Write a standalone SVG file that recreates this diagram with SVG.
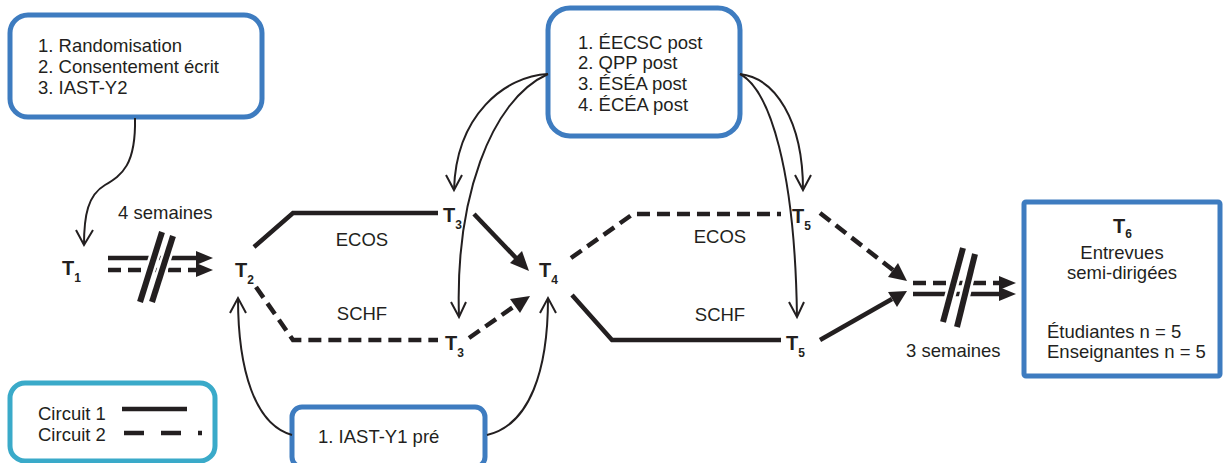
<svg xmlns="http://www.w3.org/2000/svg" width="1223" height="463" viewBox="0 0 1223 463">
  <style>
    .box { fill: #ffffff; stroke: #3e7cc0; stroke-width: 5; }
    .legend { fill: #ffffff; stroke: #3aaac9; stroke-width: 5; }
    .txt { font-family: "Liberation Sans", Arial, sans-serif; font-size: 18.5px; fill: #231f20; }
    .tlab { font-family: "Liberation Sans", Arial, sans-serif; font-size: 20px; font-weight: bold; fill: #231f20; }
    .sub { font-size: 12px; }
    .solid { fill: none; stroke: #231f20; stroke-width: 4.5; }
    .dash { fill: none; stroke: #231f20; stroke-width: 4.5; stroke-dasharray: 13 7; }
    .thin { fill: none; stroke: #231f20; stroke-width: 2; }
    .head { fill: #231f20; }
    .bar { stroke: #231f20; stroke-width: 6; }
    .barbg { stroke: #ffffff; stroke-width: 11; }
  </style>

  <!-- Boxes -->
  <g id="box-inclusion">
    <rect class="box" x="10" y="15" width="252" height="102" rx="18"/>
    <text class="txt" x="38" y="52">1. Randomisation</text>
    <text class="txt" x="38" y="73">2. Consentement écrit</text>
    <text class="txt" x="38" y="94">3. IAST-Y2</text>
  </g>

  <g id="box-post">
    <rect class="box" x="548" y="8" width="192" height="128" rx="22"/>
    <text class="txt" x="578" y="49">1. ÉECSC post</text>
    <text class="txt" x="578" y="69">2. QPP post</text>
    <text class="txt" x="578" y="90">3. ÉSÉA post</text>
    <text class="txt" x="578" y="111">4. ÉCÉA post</text>
  </g>

  <g id="box-pre">
    <rect class="box" x="292" y="407" width="193" height="60" rx="10"/>
    <text class="txt" x="318" y="443">1. IAST-Y1 pré</text>
  </g>

  <g id="box-t6">
    <rect class="box" x="1024" y="202" width="196" height="174" rx="2"/>
    <text class="tlab" x="1113" y="233">T<tspan class="sub" dy="5">6</tspan></text>
    <text class="txt" x="1122" y="259" text-anchor="middle">Entrevues</text>
    <text class="txt" x="1122" y="279" text-anchor="middle">semi-dirigées</text>
    <text class="txt" x="1047" y="338">Étudiantes n = 5</text>
    <text class="txt" x="1047" y="358">Enseignantes n = 5</text>
  </g>

  <g id="legend">
    <rect class="legend" x="10" y="383" width="205" height="78" rx="15"/>
    <text class="txt" x="38" y="420">Circuit 1</text>
    <text class="txt" x="38" y="441">Circuit 2</text>
    <line class="solid" x1="122" y1="409" x2="187" y2="409"/>
    <line x1="124" y1="433" x2="202" y2="433" stroke="#231f20" stroke-width="4.5" stroke-dasharray="20 17"/>
  </g>

  <!-- Time points -->
  <g id="t1"><text class="tlab" x="62" y="275">T<tspan class="sub" dy="7">1</tspan></text></g>
  <g id="t2"><text class="tlab" x="235" y="277">T<tspan class="sub" dy="7">2</tspan></text></g>
  <g id="t3a"><text class="tlab" x="443" y="222">T<tspan class="sub" dy="7">3</tspan></text></g>
  <g id="t3b"><text class="tlab" x="445" y="350">T<tspan class="sub" dy="7">3</tspan></text></g>
  <g id="t4"><text class="tlab" x="539" y="277">T<tspan class="sub" dy="7">4</tspan></text></g>
  <g id="t5a"><text class="tlab" x="792" y="223">T<tspan class="sub" dy="7">5</tspan></text></g>
  <g id="t5b"><text class="tlab" x="786" y="350">T<tspan class="sub" dy="7">5</tspan></text></g>

  <!-- Connectors -->
  <g id="connectors">
    <!-- T1 to T2, four weeks -->
    <text class="txt" x="118" y="219">4 semaines</text>
    <line class="solid" x1="108" y1="258" x2="198" y2="258"/>
    <polygon class="head" points="213,258 196,251 196,265"/>
    <line class="dash" x1="108" y1="270" x2="198" y2="270"/>
    <polygon class="head" points="213,270 196,263 196,277"/>
    <line class="barbg" x1="162" y1="232" x2="140" y2="302"/>
    <line class="barbg" x1="173" y1="236" x2="152" y2="302"/>
    <line class="bar" x1="162" y1="232" x2="140" y2="302"/>
    <line class="bar" x1="173" y1="236" x2="152" y2="302"/>

    <!-- T2 to T3 -->
    <path class="solid" d="M254,247 L293,213 H438"/>
    <path class="dash" d="M256,287 L293,340 H438"/>
    <text class="txt" x="362" y="246" text-anchor="middle">ECOS</text>
    <text class="txt" x="362" y="320" text-anchor="middle">SCHF</text>

    <!-- T3 to T4 -->
    <line class="solid" x1="474" y1="214" x2="517" y2="259"/>
    <polygon class="head" points="529,271 510,263 522,251"/>
    <line class="dash" x1="469" y1="338" x2="516" y2="305"/>
    <polygon class="head" points="530,296 520,313 510,299"/>

    <!-- T4 to T5 -->
    <path class="dash" d="M571,258 L633,214 H781"/>
    <path class="solid" d="M572,295 L612,340 H781"/>
    <text class="txt" x="720" y="243" text-anchor="middle">ECOS</text>
    <text class="txt" x="720" y="321" text-anchor="middle">SCHF</text>

    <!-- T5 to T6, three weeks -->
    <line class="dash" x1="820" y1="213" x2="893" y2="270"/>
    <polygon class="head" points="907,281 888,277 898,263"/>
    <line class="solid" x1="820" y1="340" x2="892" y2="299"/>
    <polygon class="head" points="907,291 897,307 888,292"/>
    <line class="dash" x1="913" y1="283" x2="1000" y2="283"/>
    <polygon class="head" points="1016,283 999,276 999,290"/>
    <line class="solid" x1="913" y1="294" x2="1000" y2="294"/>
    <polygon class="head" points="1016,294 999,287 999,301"/>
    <line class="barbg" x1="963" y1="248" x2="943" y2="322"/>
    <line class="barbg" x1="975" y1="254" x2="957" y2="327"/>
    <line class="bar" x1="963" y1="248" x2="943" y2="322"/>
    <line class="bar" x1="975" y1="254" x2="957" y2="327"/>
    <text class="txt" x="906" y="357">3 semaines</text>

    <!-- Measurement links -->
    <path class="thin" d="M135,118 C136,165 122,175 105,185 C88,195 84,215 84,245"/>
    <polyline class="thin" points="76,230 84,245 93,230"/>

    <path class="thin" d="M548,74 C505,76 456,115 454,190"/>
    <polyline class="thin" points="446,175 454,190 462,175"/>
    <path class="thin" d="M548,74 C490,100 455,200 459,317"/>
    <polyline class="thin" points="451,302 459,317 466,302"/>

    <path class="thin" d="M740,74 C775,78 803,120 803,190"/>
    <polyline class="thin" points="795,175 803,190 811,175"/>
    <path class="thin" d="M740,74 C770,90 795,170 797,317"/>
    <polyline class="thin" points="789,302 797,317 804,302"/>

    <path class="thin" d="M292,435 C255,425 238,370 238,298"/>
    <polyline class="thin" points="230,313 238,298 246,313"/>
    <path class="thin" d="M487,435 C530,425 548,370 548,298"/>
    <polyline class="thin" points="540,313 548,298 556,313"/>
  </g>
</svg>
